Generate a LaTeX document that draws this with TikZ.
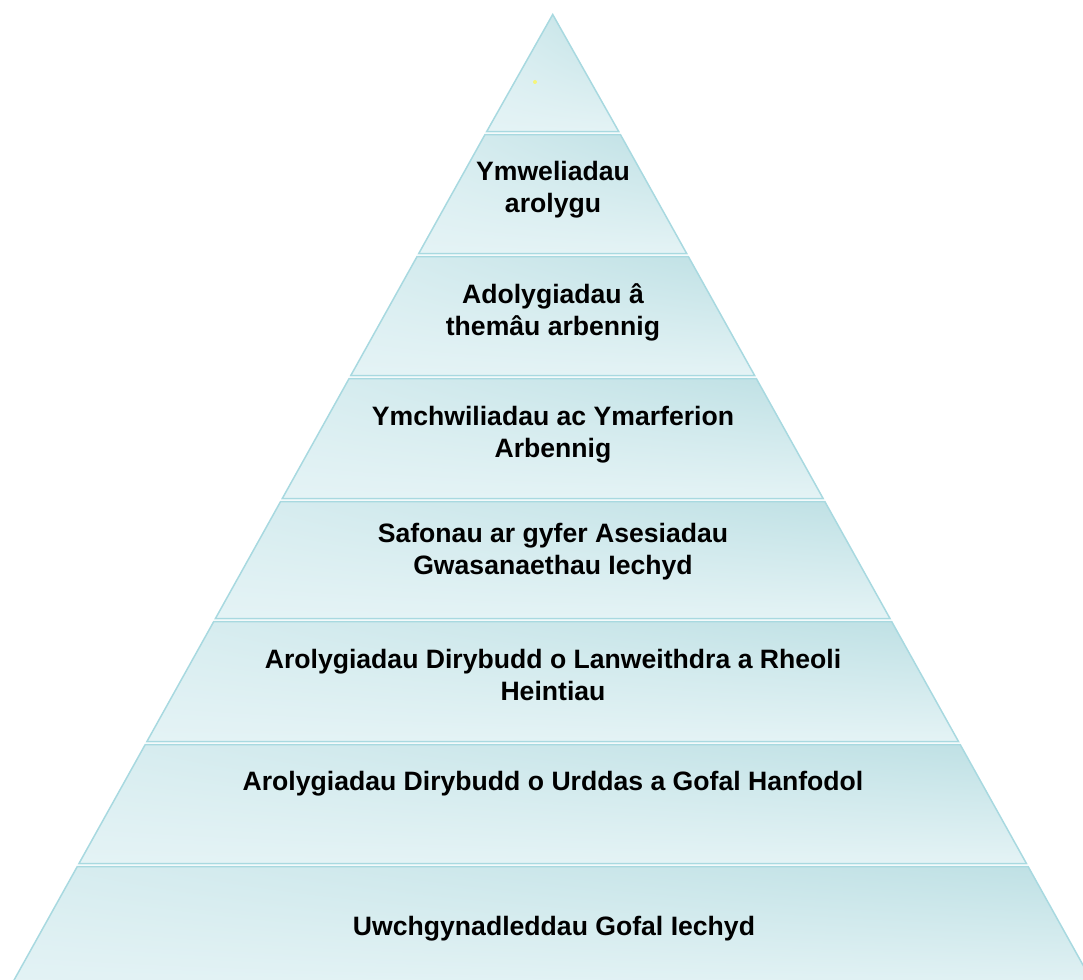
\documentclass[tikz,border=0pt]{standalone}
\usepackage{fontspec}
\setmainfont{Liberation Sans}
\usetikzlibrary{shadings}
\definecolor{pyrLine}{HTML}{A8D9E0}
\definecolor{pyrDark}{HTML}{BEE0E4}
\definecolor{pyrMid}{HTML}{D8EDF0}
\definecolor{pyrLight}{HTML}{E4F3F5}
\definecolor{markYellow}{HTML}{F5F57A}
\begin{document}
\begin{tikzpicture}[x=1pt,y=-1pt]
	\tikzstyle{layer} = [draw=pyrLine, line width=1.5pt, shade, upper left=pyrMid, upper right=pyrDark, lower left=pyrLight, lower right=pyrLight]
	\tikzstyle{layertext} = [font=\bfseries\fontsize{26.6}{32}\selectfont, align=center, text=black, inner sep=0pt]

	\path[use as bounding box, clip] (0,0) rectangle (1083,979);

	% Apex of the pyramid
	\path[layer] (552.7,14.5) -- ({552.7-0.557*(131.5-13)},131.5) -- ({552.7+0.557*(131.5-13)},131.5) -- cycle;
	% Layers below the apex
	\foreach \yt/\yb in {133/255, 255/377, 377/500, 500/620, 620/743, 743/865, 865/995}
	\path[layer] ({552.7-0.557*(\yt+1.5-13)},\yt+1.5) -- ({552.7+0.557*(\yt+1.5-13)},\yt+1.5)
		-- ({552.7+0.557*(\yb-1.5-13)},\yb-1.5) -- ({552.7-0.557*(\yb-1.5-13)},\yb-1.5) -- cycle;

	% Small yellow mark in the apex
	\node (mark) [circle, fill=markYellow, minimum size=4pt, inner sep=0pt] at (535,82) {};

	% Layer texts
	\node (visits) [layertext] at (553,190) {Ymweliadau\\arolygu};
	\node (themes) [layertext] at (553,312) {Adolygiadau â\\themâu arbennig};
	\node (investigations) [layertext] at (553,435) {Ymchwiliadau ac Ymarferion\\Arbennig};
	\node (standards) [layertext] at (553,552) {Safonau ar gyfer Asesiadau\\Gwasanaethau Iechyd};
	\node (cleanliness) [layertext] at (553,675) {Arolygiadau Dirybudd o Lanweithdra a Rheoli\\Heintiau};
	\node (dignity) [layertext] at (553,784) {Arolygiadau Dirybudd o Urddas a Gofal Hanfodol};
	\node (summits) [layertext] at (554,929) {Uwchgynadleddau Gofal Iechyd};
\end{tikzpicture}
\end{document}
